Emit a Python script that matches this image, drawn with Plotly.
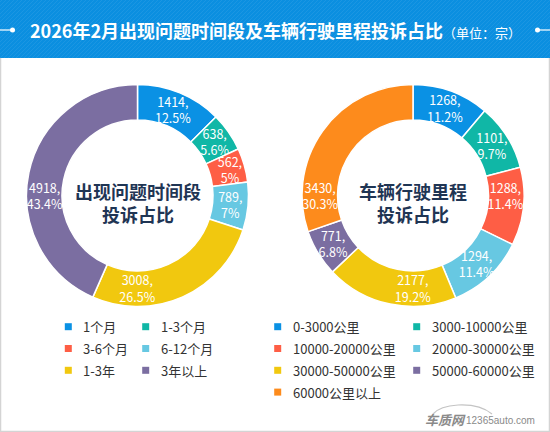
import plotly.graph_objects as go

# data
time_labels = ['1个月', '1-3个月', '3-6个月', '6-12个月', '1-3年', '3年以上']
time_values = [1414, 638, 562, 789, 3008, 4918]
time_pct = ['12.5%', '5.6%', '5%', '7%', '26.5%', '43.4%']

mile_labels = ['0-3000公里', '3000-10000公里', '10000-20000公里', '20000-30000公里',
               '30000-50000公里', '50000-60000公里', '60000公里以上']
mile_values = [1268, 1101, 1288, 1294, 2177, 771, 3430]
mile_pct = ['11.2%', '9.7%', '11.4%', '11.4%', '19.2%', '6.8%', '30.3%']

colors = ['#0a91e4', '#10b7a6', '#fe5e45', '#67c8e2', '#f1c80f', '#7b6ea1', '#fd8b1c']

W, H = 550, 432
FONT = 'Noto Sans CJK SC'
BAR = '#0b8fe0'

fig = go.Figure()


def donut(labels, values, pct, x0, x1):
    return go.Pie(
        labels=labels, values=values,
        text=[f'{v},<br>{p}' for v, p in zip(values, pct)],
        texttemplate='%{text}',
        textposition='inside', insidetextorientation='horizontal',
        textfont=dict(family=FONT, size=12.5, color='white'),
        marker=dict(colors=colors[:len(values)], line=dict(color='white', width=1.5)),
        hole=0.68, sort=False, direction='clockwise', rotation=0,
        domain=dict(x=[x0 / W, x1 / W], y=[1 - 307 / H, 1 - 84 / H]),
        showlegend=False, hoverinfo='label+value+percent',
    )


fig.add_trace(donut(time_labels, time_values, time_pct, 26.5, 248.5))
fig.add_trace(donut(mile_labels, mile_values, mile_pct, 302, 524))

# legends drawn on a pixel-sized overlay axis, two columns each
annotations = []


def legend(labels, col_x, y0):
    xs, ys = [], []
    for i, lab in enumerate(labels):
        x = col_x[i % 2]
        y = y0 + (i // 2) * 21.8
        xs.append(x)
        ys.append(y)
        annotations.append(dict(x=x + 13, y=y, xref='x', yref='y', text=lab,
                                xanchor='left', yanchor='middle', showarrow=False,
                                font=dict(family=FONT, size=13, color='#333333')))
    fig.add_trace(go.Scatter(x=xs, y=ys, mode='markers', hoverinfo='skip', showlegend=False,
                             marker=dict(symbol='square', size=7,
                                         color=colors[:len(labels)])))


legend(time_labels, [68.3, 145.7], 326.7)
legend(mile_labels, [277.7, 416.7], 326.7)

# centre labels
for cx, txt in [(137.5, '出现问题时间段<br>投诉占比'), (413, '车辆行驶里程<br>投诉占比')]:
    annotations.append(dict(x=cx, y=202, xref='x', yref='y', text=f'<b>{txt}</b>',
                            showarrow=False, xanchor='center', yanchor='middle',
                            font=dict(family=FONT, size=18, color='#1f3554')))

# title
annotations.append(dict(
    x=28, y=30, xref='x', yref='y', xanchor='left', yanchor='middle', showarrow=False,
    text='<b>2026年2月出现问题时间段及车辆行驶里程投诉占比</b>'
         '<span style="font-size:13px">（单位：宗）</span>',
    font=dict(family=FONT, size=18, color='white')))

# watermark
annotations.append(dict(x=423, y=419, xref='x', yref='y', xanchor='left', yanchor='middle',
                        showarrow=False, text='<b><i>车质网</i></b>',
                        font=dict(family=FONT, size=13, color='#8a8a8a')))
annotations.append(dict(x=464, y=420, xref='x', yref='y', xanchor='left', yanchor='middle',
                        showarrow=False, text='12365auto.com',
                        font=dict(family='Liberation Sans', size=10, color='#8a8a8a')))

shapes = [
    dict(type='rect', x0=0.5, x1=W - 0.5, y0=0, y1=H - 0.5, xref='x', yref='y',
         line=dict(color='#d4d4d4', width=1.5), fillcolor='white', layer='below'),
    dict(type='rect', x0=0, x1=W, y0=0, y1=58, xref='x', yref='y',
         line=dict(width=0), fillcolor=BAR, layer='below'),
]
# faint diagonal stripes on the title bar
for k in range(-60, W + 4, 4):
    shapes.append(dict(type='line', x0=k, y0=58, x1=k + 58, y1=0, xref='x', yref='y',
                       line=dict(color='rgba(255,255,255,0.07)', width=1), layer='below'))
shapes += [
    dict(type='line', x0=0, x1=12, y0=30, y1=30, xref='x', yref='y',
         line=dict(color='white', width=1.2)),
    dict(type='circle', x0=10, x1=15, y0=27.5, y1=32.5, xref='x', yref='y',
         fillcolor='white', line=dict(width=0)),
    dict(type='line', x0=538, x1=W, y0=30, y1=30, xref='x', yref='y',
         line=dict(color='white', width=1.2)),
    dict(type='circle', x0=535, x1=540, y0=27.5, y1=32.5, xref='x', yref='y',
         fillcolor='white', line=dict(width=0)),
    dict(type='path', path='M 433 414 Q 440 406 458 405 Q 480 404 492 414',
         xref='x', yref='y', line=dict(color='#c4c4c4', width=1.2)),
]

fig.update_layout(
    width=W, height=H, autosize=False,
    margin=dict(l=0, r=0, t=0, b=0),
    paper_bgcolor='white', plot_bgcolor='rgba(0,0,0,0)',
    xaxis=dict(range=[0, W], visible=False, fixedrange=True),
    yaxis=dict(range=[H, 0], visible=False, fixedrange=True),
    uniformtext=dict(minsize=12.5, mode='show'),
    annotations=annotations, shapes=shapes,
    font=dict(family=FONT),
)

# the page's default body margin would push the 550x432 figure off the window
fig.write_html('out.html', config={'displayModeBar': False},
               post_script="document.body.style.margin='0';document.body.style.overflow='hidden';")
